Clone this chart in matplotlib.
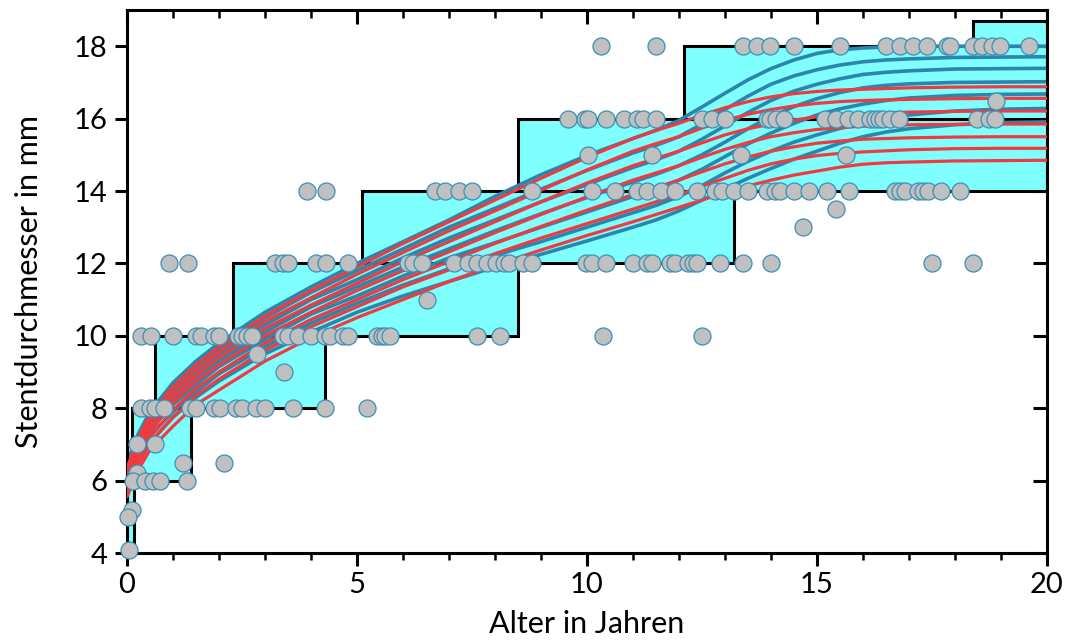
import numpy as np
import matplotlib.pyplot as plt
from matplotlib.ticker import MultipleLocator

plt.rcParams['font.family'] = ['Lato', 'DejaVu Sans']

# stent size ranges per age (cyan boxes)
box_x0 = [0.0, 0.1, 0.6, 2.3, 5.1, 8.5, 12.1, 18.4]
box_x1 = [0.15, 1.4, 4.3, 8.5, 13.2, 20.0, 20.0, 20.0]
box_y0 = [4, 6, 8, 10, 12, 14, 16, 18]
box_y1 = [6, 8, 10, 12, 14, 16, 18, 18.7]

# percentile curves
age = [0, 0.25, 0.5, 1, 1.5, 2, 3, 4, 5, 6, 7, 8, 9, 10, 11, 11.5, 12, 12.5, 13, 13.5,
       14, 14.5, 15, 15.5, 16, 16.5, 17, 18, 19, 20]
blue = [
    [6.5, 7.3, 7.9, 8.7, 9.3, 9.8, 10.65, 11.35, 12.0, 12.6, 13.2, 13.85, 14.45, 14.98, 15.45, 15.68, 15.95, 16.32, 16.7, 17.07, 17.38, 17.62, 17.8, 17.9, 17.95, 17.98, 18.0, 18.0, 18.0, 18.0],
    [6.4, 7.2, 7.8, 8.55, 9.15, 9.65, 10.5, 11.2, 11.8, 12.4, 13.0, 13.52, 14.05, 14.57, 15.05, 15.26, 15.5, 15.85, 16.25, 16.62, 16.95, 17.18, 17.35, 17.48, 17.57, 17.62, 17.65, 17.69, 17.7, 17.71],
    [6.3, 7.1, 7.65, 8.4, 9.0, 9.5, 10.3, 11.0, 11.55, 12.15, 12.7, 13.2, 13.7, 14.18, 14.65, 14.86, 15.1, 15.43, 15.8, 16.17, 16.5, 16.76, 16.95, 17.1, 17.22, 17.28, 17.32, 17.37, 17.38, 17.39],
    [6.2, 7.0, 7.55, 8.25, 8.85, 9.3, 10.1, 10.8, 11.35, 11.9, 12.4, 12.9, 13.37, 13.82, 14.25, 14.46, 14.7, 15.0, 15.35, 15.72, 16.05, 16.33, 16.55, 16.72, 16.85, 16.92, 16.96, 17.0, 17.01, 17.02],
    [6.1, 6.85, 7.4, 8.1, 8.65, 9.15, 9.9, 10.6, 11.1, 11.65, 12.15, 12.57, 13.0, 13.42, 13.85, 14.06, 14.3, 14.6, 14.95, 15.3, 15.6, 15.87, 16.1, 16.27, 16.4, 16.5, 16.57, 16.64, 16.67, 16.68],
    [6.0, 6.7, 7.25, 7.9, 8.45, 8.95, 9.7, 10.35, 10.9, 11.4, 11.85, 12.22, 12.6, 13.0, 13.4, 13.6, 13.85, 14.15, 14.5, 14.82, 15.1, 15.35, 15.55, 15.73, 15.87, 16.0, 16.1, 16.21, 16.26, 16.28],
    [5.9, 6.55, 7.05, 7.75, 8.3, 8.75, 9.5, 10.1, 10.65, 11.1, 11.5, 11.9, 12.25, 12.62, 13.0, 13.2, 13.45, 13.75, 14.05, 14.35, 14.62, 14.88, 15.1, 15.32, 15.5, 15.63, 15.72, 15.83, 15.89, 15.91],
]
red = [
    [6.35, 7.2, 7.8, 8.6, 9.2, 9.7, 10.55, 11.25, 11.9, 12.55, 13.15, 13.75, 14.35, 14.93, 15.45, 15.67, 15.87, 16.1, 16.3, 16.47, 16.6, 16.69, 16.75, 16.79, 16.81, 16.83, 16.85, 16.87, 16.88, 16.88],
    [6.2, 7.05, 7.65, 8.45, 9.05, 9.55, 10.4, 11.05, 11.7, 12.3, 12.9, 13.45, 14.02, 14.58, 15.1, 15.31, 15.5, 15.74, 15.95, 16.12, 16.25, 16.35, 16.42, 16.47, 16.5, 16.52, 16.53, 16.55, 16.56, 16.56],
    [6.05, 6.9, 7.5, 8.3, 8.9, 9.4, 10.2, 10.85, 11.45, 12.05, 12.6, 13.15, 13.7, 14.22, 14.7, 14.9, 15.1, 15.33, 15.55, 15.72, 15.85, 15.96, 16.05, 16.1, 16.14, 16.16, 16.18, 16.2, 16.21, 16.21],
    [5.9, 6.75, 7.35, 8.15, 8.75, 9.2, 10.0, 10.65, 11.25, 11.8, 12.32, 12.85, 13.35, 13.84, 14.3, 14.5, 14.7, 14.93, 15.15, 15.34, 15.5, 15.61, 15.7, 15.75, 15.79, 15.81, 15.83, 15.84, 15.85, 15.85],
    [5.8, 6.6, 7.2, 7.95, 8.55, 9.0, 9.8, 10.45, 11.0, 11.55, 12.05, 12.55, 13.02, 13.47, 13.9, 14.1, 14.3, 14.53, 14.75, 14.94, 15.1, 15.22, 15.32, 15.38, 15.43, 15.45, 15.47, 15.49, 15.5, 15.5],
    [5.65, 6.45, 7.05, 7.75, 8.35, 8.8, 9.6, 10.25, 10.8, 11.35, 11.82, 12.27, 12.7, 13.1, 13.5, 13.7, 13.9, 14.13, 14.35, 14.57, 14.75, 14.88, 14.98, 15.04, 15.08, 15.11, 15.14, 15.17, 15.18, 15.18],
    [5.55, 6.3, 6.85, 7.5, 8.1, 8.5, 9.3, 9.95, 10.5, 11.0, 11.5, 11.95, 12.37, 12.77, 13.15, 13.35, 13.55, 13.75, 13.95, 14.14, 14.3, 14.44, 14.55, 14.66, 14.74, 14.78, 14.8, 14.83, 14.84, 14.85],
]

# patients: age and implanted stent diameter
pat_age = [
    # 18 mm
    10.3, 11.51, 13.4, 13.69, 13.99, 14.51, 15.5, 16.5, 16.8, 17.09, 17.4, 17.82, 17.9, 18.4, 18.58, 18.8, 18.99, 19.61,
    # 16.5 mm
    18.9,
    # 16 mm
    9.59, 9.96, 10.03, 10.41, 10.81, 11.08, 11.21, 11.51, 12.51, 12.71, 13.0, 13.91, 13.99, 14.11, 14.28,
    15.17, 15.41, 15.68, 15.9, 16.15, 16.26, 16.35, 16.44, 16.59, 16.79, 18.49, 18.75, 18.87,
    # 15 mm
    10.02, 11.42, 13.34, 15.63,
    # 14 mm
    3.91, 4.32, 6.7, 6.91, 7.22, 7.51, 8.81, 10.1, 10.61, 11.09, 11.31, 11.61, 11.91, 12.4, 12.78, 12.93,
    13.2, 13.51, 13.91, 14.09, 14.2, 14.51, 14.82, 15.21, 15.7, 16.7, 16.8, 16.91, 17.2, 17.3, 17.41, 17.69, 18.1,
    # 13.5 / 13 mm
    15.41, 14.7,
    # 12 mm
    0.92, 1.32, 3.22, 3.4, 3.51, 4.12, 4.32, 4.81, 6.12, 6.22, 6.41, 7.12, 7.42, 7.62, 7.82, 8.02, 8.2, 8.31,
    8.62, 8.81, 9.99, 10.12, 10.41, 11.0, 11.3, 11.41, 11.8, 11.91, 12.2, 12.31, 12.4, 12.9, 13.4, 14.0, 17.51, 18.4,
    # 11 mm
    6.52,
    # 10 mm
    0.3, 0.52, 1.01, 1.5, 1.6, 1.9, 2.01, 2.42, 2.51, 2.62, 2.71, 3.4, 3.51, 3.71, 4.01, 4.3, 4.41, 4.7, 4.81,
    5.43, 5.54, 5.62, 5.72, 7.6, 8.1, 10.35, 12.5,
    # 9.5 / 9 mm
    2.82, 3.41,
    # 8 mm
    0.3, 0.5, 0.61, 0.81, 1.37, 1.51, 1.9, 2.02, 2.38, 2.51, 2.8, 3.0, 3.6, 4.3, 5.21,
    # 7, 6.5, 6.2 mm
    0.21, 0.61, 1.21, 2.11, 0.22,
    # 6 mm
    0.14, 0.39, 0.57, 0.72, 1.31,
    # 5.2, 5, 4 mm
    0.12, 0.02, 0.05,
]
pat_diam = ([18] * 18 + [16.5] + [16] * 28 + [15] * 4 + [14] * 33 + [13.5, 13] + [12] * 36 + [11]
            + [10] * 27 + [9.5, 9] + [8] * 15 + [7, 7, 6.5, 6.5, 6.2] + [6] * 5 + [5.2, 5.0, 4.08])

fig = plt.figure(figsize=(10.65, 6.42), dpi=100)
ax = fig.add_axes([0.1192, 0.1386, 0.8638, 0.8458])

ax.bar(box_x0, np.subtract(box_y1, box_y0), width=np.subtract(box_x1, box_x0), bottom=box_y0,
       align='edge', color='#80ffff', edgecolor='black', linewidth=2.2, zorder=1)

for y in blue:
    ax.plot(age, y, color='#2b86ad', lw=2.6, zorder=2, solid_capstyle='round', solid_joinstyle='round')
for y in red:
    ax.plot(age, y, color='#ef3b40', lw=2.3, zorder=3, solid_capstyle='round', solid_joinstyle='round')

ax.scatter(pat_age, pat_diam, s=150, facecolor='#c0c0c0', edgecolor='#3a8fb5', linewidth=0.9,
           zorder=4, clip_on=False)

ax.set_xlim(0, 20)
ax.set_ylim(4, 19.0)
ax.xaxis.set_major_locator(MultipleLocator(5))
ax.xaxis.set_minor_locator(MultipleLocator(1))
ax.yaxis.set_major_locator(MultipleLocator(2))

for s in ax.spines.values():
    s.set_linewidth(2.2)
ax.tick_params(axis='both', which='major', direction='out', length=9, width=2.2, labelsize=21, pad=5)
ax.tick_params(axis='x', which='minor', direction='out', length=5, width=1.8)
# inward ticks on the top and right frame
ax2 = ax.secondary_xaxis('top')
ax2.xaxis.set_major_locator(MultipleLocator(5))
ax2.xaxis.set_minor_locator(MultipleLocator(1))
ax2.tick_params(which='major', direction='in', length=10, width=2.2, labeltop=False)
ax2.tick_params(which='minor', direction='in', length=6, width=1.8)
ax3 = ax.secondary_yaxis('right')
ax3.yaxis.set_major_locator(MultipleLocator(2))
ax3.tick_params(direction='in', length=10, width=2.2, labelright=False)

ax.set_xlabel('Alter in Jahren', fontsize=22, labelpad=8)
ax.set_ylabel('Stentdurchmesser in mm', fontsize=22, labelpad=22)

fig.savefig('out.png', dpi=100)
